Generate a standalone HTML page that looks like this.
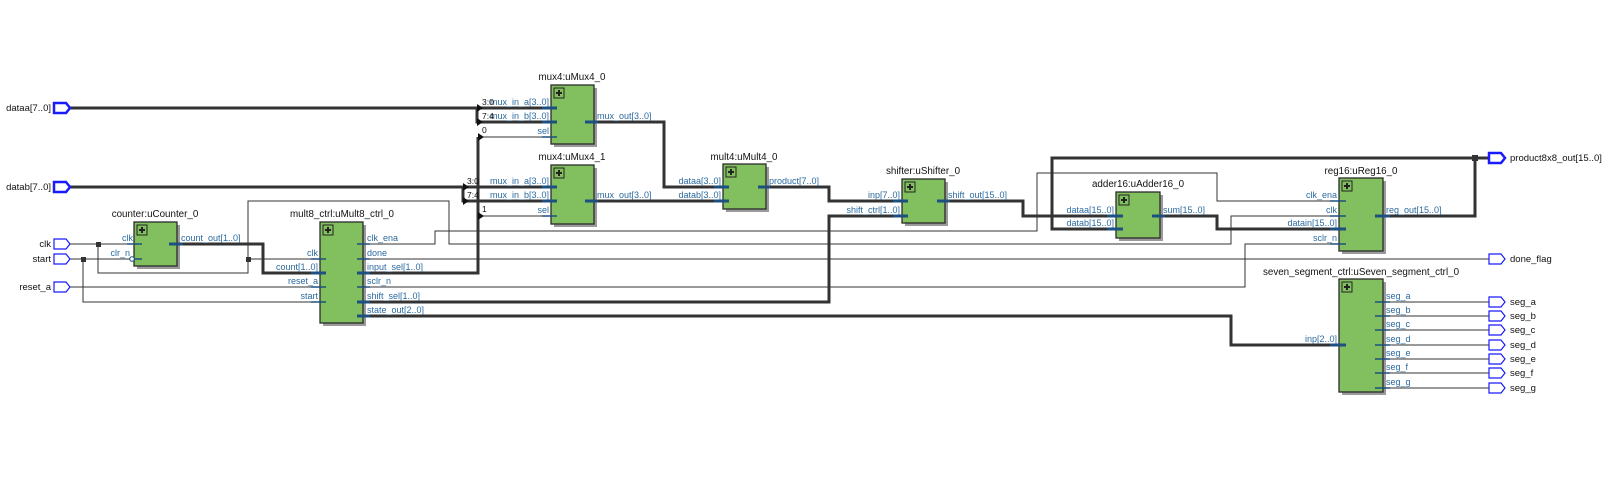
<!DOCTYPE html>
<html><head><meta charset="utf-8"><style>
html,body{margin:0;padding:0;background:#fff;}
svg{display:block;}
.t{stroke:#333;stroke-width:1;fill:none;}
.b{stroke:#333;stroke-width:3;fill:none;}
.box{fill:#82bf5e;stroke:#2b2b2b;stroke-width:1.3;}
.sh{fill:#9a9a9a;}
.pl{font-family:"Liberation Sans",sans-serif;font-size:9px;fill:#2a6aa0;}
.tt{font-family:"Liberation Sans",sans-serif;font-size:9.8px;fill:#111;}
.po{font-family:"Liberation Sans",sans-serif;font-size:9.5px;fill:#111;}
.st{stroke:#1d4f80;stroke-width:1.5;}
.stb{stroke:#1d4f80;stroke-width:3;}
.port{fill:#fff;stroke:#1a1aff;stroke-width:1.2;}
.portb{fill:#fff;stroke:#1a1aff;stroke-width:2.5;}
</style></head><body>
<svg width="1610" height="500" viewBox="0 0 1610 500" xmlns="http://www.w3.org/2000/svg">
<defs>
<g id="plus"><rect x="0" y="0" width="10" height="10" fill="#82bf5e" stroke="#222" stroke-width="1"/><path d="M5 2V8M2 5H8" stroke="#222" stroke-width="2"/></g>
</defs>

<polyline class="t" points="70,244 134,244"/>
<polyline class="t" points="98,244 98,273 248,273 248,201 449,201 449,244 1231,244 1231,216 1339,216"/>
<polyline class="t" points="248,259 320,259"/>
<polyline class="t" points="70,259 130,259"/>
<polyline class="t" points="83,259 83,302 320,302"/>
<polyline class="t" points="70,287 320,287"/>
<polyline class="t" points="363,244 435,244 435,231 1037,231 1037,173 1217,173 1217,201 1339,201"/>
<polyline class="t" points="363,259 1489,259"/>
<polyline class="t" points="363,287 1245,287 1245,244 1339,244"/>
<polyline class="t" points="478,137 551,137"/>
<polyline class="t" points="478,216 551,216"/>
<g class="t">
<line x1="1383" y1="302" x2="1489" y2="302"/><line x1="1383" y1="316" x2="1489" y2="316"/>
<line x1="1383" y1="330" x2="1489" y2="330"/><line x1="1383" y1="345" x2="1489" y2="345"/>
<line x1="1383" y1="359" x2="1489" y2="359"/><line x1="1383" y1="373" x2="1489" y2="373"/>
<line x1="1383" y1="388" x2="1489" y2="388"/>
</g>

<polyline class="b" points="70,108 551,108"/>
<polyline class="b" points="477,108 477,122 551,122"/>
<polyline class="b" points="70,187 551,187"/>
<polyline class="b" points="463,187 463,201 551,201"/>
<polyline class="b" points="363,273 478,273 478,137"/>
<polyline class="b" points="177,244 263,244 263,273 320,273"/>
<polyline class="b" points="363,302 829,302 829,216 902,216"/>
<polyline class="b" points="363,316 1231,316 1231,345 1339,345"/>
<polyline class="b" points="594,122 664,122 664,187 723,187"/>
<polyline class="b" points="594,201 723,201"/>
<polyline class="b" points="766,187 829,187 829,201 902,201"/>
<polyline class="b" points="945,201 1023,201 1023,216 1116,216"/>
<polyline class="b" points="1160,216 1217,216 1217,229 1339,229"/>
<polyline class="b" points="1383,216 1475,216 1475,158"/>
<polyline class="b" points="1489,158 1052,158 1052,229 1116,229"/>

<g fill="#111">
<polygon points="477,104 483,108 477,112"/>
<polygon points="477,118 483,122 477,126"/>
<polygon points="478,133 484,137 478,141"/>
<polygon points="463,183 469,187 463,191"/>
<polygon points="463,197 469,201 463,205"/>
<polygon points="478,212 484,216 478,220"/>
</g>
<g fill="#333">
<rect x="96" y="242" width="5" height="5"/><rect x="81" y="257" width="5" height="5"/>
<rect x="246" y="257" width="5" height="5"/><rect x="1472" y="155" width="6" height="6"/>
</g>

<polygon class="portb" points="54,103 66,103 70,108 66,113 54,113"/>
<polygon class="portb" points="54,182 66,182 70,187 66,192 54,192"/>
<polygon class="port" points="54,239 66,239 70,244 66,249 54,249"/>
<polygon class="port" points="54,254 66,254 70,259 66,264 54,264"/>
<polygon class="port" points="54,282 66,282 70,287 66,292 54,292"/>
<g class="po" text-anchor="end">
<text x="51" y="111">dataa[7..0]</text><text x="51" y="190">datab[7..0]</text>
<text x="51" y="247">clk</text><text x="51" y="262">start</text><text x="51" y="290">reset_a</text>
</g>
<polygon class="portb" points="1489,153 1501,153 1505,158 1501,163 1489,163"/>
<g class="port">
<polygon points="1489,254 1501,254 1505,259 1501,264 1489,264"/>
<polygon points="1489,297 1501,297 1505,302 1501,307 1489,307"/>
<polygon points="1489,311 1501,311 1505,316 1501,321 1489,321"/>
<polygon points="1489,325 1501,325 1505,330 1501,335 1489,335"/>
<polygon points="1489,340 1501,340 1505,345 1501,350 1489,350"/>
<polygon points="1489,354 1501,354 1505,359 1501,364 1489,364"/>
<polygon points="1489,368 1501,368 1505,373 1501,378 1489,378"/>
<polygon points="1489,383 1501,383 1505,388 1501,393 1489,393"/>
</g>
<g class="po">
<text x="1510" y="161">product8x8_out[15..0]</text><text x="1510" y="262">done_flag</text>
<text x="1510" y="305">seg_a</text><text x="1510" y="319">seg_b</text><text x="1510" y="333">seg_c</text>
<text x="1510" y="348">seg_d</text><text x="1510" y="362">seg_e</text><text x="1510" y="376">seg_f</text>
<text x="1510" y="391">seg_g</text>
</g>

<g>
<rect class="sh" x="137" y="225" width="43" height="44"/><rect class="box" x="134" y="222" width="43" height="44"/>
<rect class="sh" x="323" y="225" width="43" height="101"/><rect class="box" x="320" y="222" width="43" height="101"/>
<rect class="sh" x="554" y="88" width="43" height="59"/><rect class="box" x="551" y="85" width="43" height="59"/>
<rect class="sh" x="554" y="168" width="43" height="59"/><rect class="box" x="551" y="165" width="43" height="59"/>
<rect class="sh" x="726" y="167" width="43" height="45"/><rect class="box" x="723" y="164" width="43" height="45"/>
<rect class="sh" x="905" y="182" width="43" height="44"/><rect class="box" x="902" y="179" width="43" height="44"/>
<rect class="sh" x="1119" y="195" width="44" height="46"/><rect class="box" x="1116" y="192" width="44" height="46"/>
<rect class="sh" x="1342" y="181" width="44" height="73"/><rect class="box" x="1339" y="178" width="44" height="73"/>
<rect class="sh" x="1342" y="282" width="44" height="113"/><rect class="box" x="1339" y="279" width="44" height="113"/>
</g>
<use href="#plus" x="137" y="225"/><use href="#plus" x="323" y="225"/>
<use href="#plus" x="554" y="88"/><use href="#plus" x="554" y="168"/>
<use href="#plus" x="726" y="167"/><use href="#plus" x="905" y="182"/>
<use href="#plus" x="1119" y="195"/><use href="#plus" x="1342" y="181"/><use href="#plus" x="1342" y="282"/>

<circle cx="132" cy="259" r="2.3" fill="#fff" stroke="#1d4f80" stroke-width="1"/>

<g class="st">
<line x1="127" y1="244" x2="142" y2="244"/><line x1="134" y1="259" x2="142" y2="259"/>
<line x1="311" y1="259" x2="326" y2="259"/><line x1="311" y1="287" x2="326" y2="287"/><line x1="311" y1="302" x2="326" y2="302"/>
<line x1="357" y1="244" x2="370" y2="244"/><line x1="357" y1="259" x2="370" y2="259"/><line x1="357" y1="287" x2="370" y2="287"/>
<line x1="542" y1="137" x2="557" y2="137"/><line x1="542" y1="216" x2="557" y2="216"/>
<line x1="1330" y1="201" x2="1346" y2="201"/><line x1="1330" y1="216" x2="1346" y2="216"/><line x1="1330" y1="244" x2="1346" y2="244"/>
<line x1="1375" y1="302" x2="1390" y2="302"/><line x1="1375" y1="316" x2="1390" y2="316"/><line x1="1375" y1="330" x2="1390" y2="330"/>
<line x1="1375" y1="345" x2="1390" y2="345"/><line x1="1375" y1="359" x2="1390" y2="359"/><line x1="1375" y1="373" x2="1390" y2="373"/>
<line x1="1375" y1="388" x2="1390" y2="388"/>
</g>
<g class="stb">
<line x1="169" y1="244" x2="183" y2="244"/>
<line x1="311" y1="273" x2="326" y2="273"/>
<line x1="357" y1="273" x2="370" y2="273"/><line x1="357" y1="302" x2="370" y2="302"/><line x1="357" y1="316" x2="370" y2="316"/>
<line x1="542" y1="108" x2="557" y2="108"/><line x1="542" y1="122" x2="557" y2="122"/>
<line x1="542" y1="187" x2="557" y2="187"/><line x1="542" y1="201" x2="557" y2="201"/>
<line x1="585" y1="122" x2="598" y2="122"/><line x1="585" y1="201" x2="598" y2="201"/>
<line x1="714" y1="187" x2="729" y2="187"/><line x1="714" y1="201" x2="729" y2="201"/>
<line x1="758" y1="187" x2="770" y2="187"/>
<line x1="893" y1="201" x2="908" y2="201"/><line x1="893" y1="216" x2="908" y2="216"/>
<line x1="937" y1="201" x2="950" y2="201"/>
<line x1="1107" y1="216" x2="1123" y2="216"/><line x1="1107" y1="229" x2="1123" y2="229"/>
<line x1="1152" y1="216" x2="1165" y2="216"/>
<line x1="1330" y1="229" x2="1346" y2="229"/><line x1="1375" y1="216" x2="1390" y2="216"/>
<line x1="1330" y1="345" x2="1346" y2="345"/>
</g>

<g class="tt" text-anchor="middle">
<text x="155" y="217">counter:uCounter_0</text>
<text x="342" y="217">mult8_ctrl:uMult8_ctrl_0</text>
<text x="572" y="80">mux4:uMux4_0</text>
<text x="572" y="160">mux4:uMux4_1</text>
<text x="744" y="160">mult4:uMult4_0</text>
<text x="923" y="174">shifter:uShifter_0</text>
<text x="1138" y="187">adder16:uAdder16_0</text>
<text x="1361" y="174">reg16:uReg16_0</text>
<text x="1361" y="275">seven_segment_ctrl:uSeven_segment_ctrl_0</text>
</g>

<g class="pl" text-anchor="end">
<text x="133" y="241">clk</text><text x="130" y="256">clr_n</text>
<text x="318" y="256">clk</text><text x="318" y="270">count[1..0]</text><text x="318" y="284">reset_a</text><text x="318" y="299">start</text>
<text x="549" y="105">mux_in_a[3..0]</text><text x="549" y="119">mux_in_b[3..0]</text><text x="549" y="134">sel</text>
<text x="549" y="184">mux_in_a[3..0]</text><text x="549" y="198">mux_in_b[3..0]</text><text x="549" y="213">sel</text>
<text x="721" y="184">dataa[3..0]</text><text x="721" y="198">datab[3..0]</text>
<text x="900" y="198">inp[7..0]</text><text x="900" y="213">shift_ctrl[1..0]</text>
<text x="1114" y="213">dataa[15..0]</text><text x="1114" y="226">datab[15..0]</text>
<text x="1337" y="198">clk_ena</text><text x="1337" y="213">clk</text><text x="1337" y="226">datain[15..0]</text><text x="1337" y="241">sclr_n</text>
<text x="1337" y="342">inp[2..0]</text>
</g>
<g class="pl">
<text x="181" y="241">count_out[1..0]</text>
<text x="367" y="241">clk_ena</text><text x="367" y="256">done</text><text x="367" y="270">input_sel[1..0]</text>
<text x="367" y="284">sclr_n</text><text x="367" y="299">shift_sel[1..0]</text><text x="367" y="313">state_out[2..0]</text>
<text x="597" y="119">mux_out[3..0]</text><text x="597" y="198">mux_out[3..0]</text>
<text x="769" y="184">product[7..0]</text>
<text x="948" y="198">shift_out[15..0]</text>
<text x="1163" y="213">sum[15..0]</text>
<text x="1386" y="213">reg_out[15..0]</text>
<text x="1386" y="299">seg_a</text><text x="1386" y="313">seg_b</text><text x="1386" y="327">seg_c</text>
<text x="1386" y="342">seg_d</text><text x="1386" y="356">seg_e</text><text x="1386" y="370">seg_f</text><text x="1386" y="385">seg_g</text>
</g>
<g class="po" style="font-size:8.5px">
<text x="482" y="105">3:0</text><text x="482" y="119">7:4</text><text x="482" y="133">0</text>
<text x="467" y="184">3:0</text><text x="467" y="198">7:4</text><text x="482" y="212">1</text>
</g>
</svg>
</body></html>
